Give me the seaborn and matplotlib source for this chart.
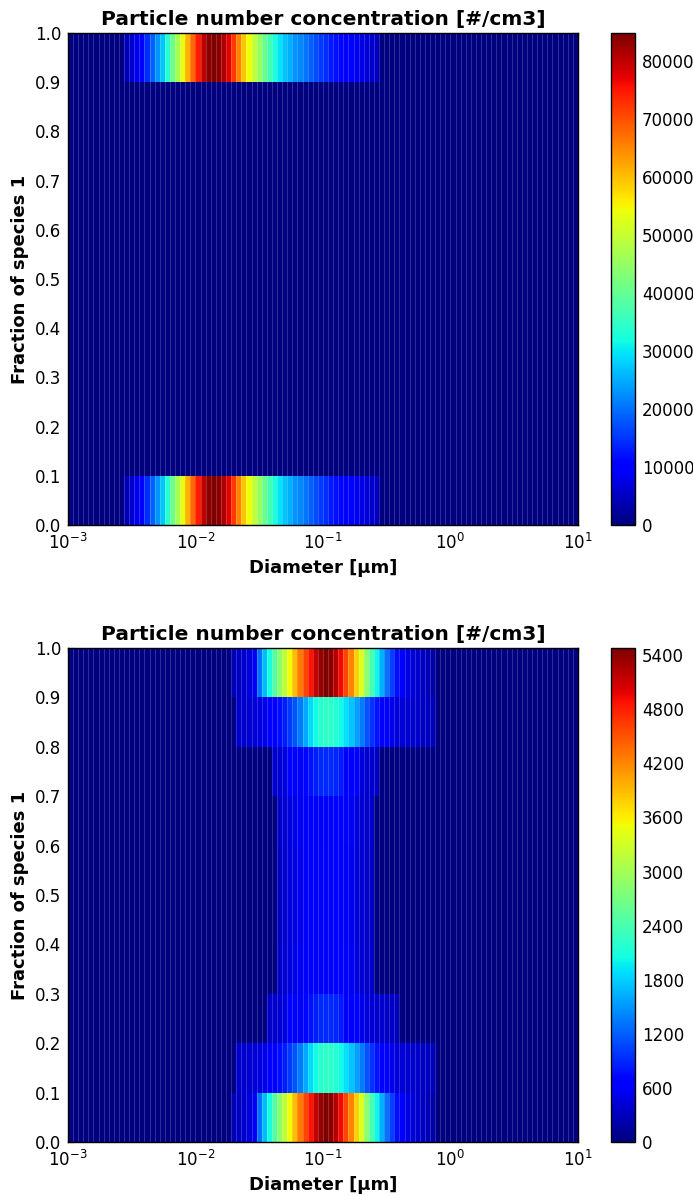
import numpy as np
import matplotlib
matplotlib.use('Agg')  # no display
import matplotlib.pyplot as plt
from matplotlib.ticker import FormatStrFormatter
import seaborn as sns

########################################
# 1. DATA
########################################
# 100 log-spaced diameter bins between 1e-3 and 1e1 um
diam_edges = np.logspace(-3, 1, 101)
frac_edges = [0.0, 0.1, 0.2, 0.3, 0.4, 0.5, 0.6, 0.7, 0.8, 0.9, 1.0]

# --- top panel: only the pure rows (0.0-0.1 and 0.9-1.0) are filled
run1_start = 11
run1_pure = [4200, 5900, 8500, 10200, 14400, 18700, 22900, 27100, 33900, 40700,
             46600, 53400, 61100, 67800, 74600, 80100, 83800, 84800, 84000, 81400,
             77200, 72100, 65300, 59400, 54300, 49200, 44900, 40700, 36500, 33100,
             29700, 27100, 25400, 22900, 22000, 20400, 18700, 17000, 15300, 14400,
             12700, 11900, 11000, 10200, 9300, 8500, 7600, 6800, 5900, 5100]

# --- bottom panel: mixing has spread particles over all fractions
run2_outer_start = 32   # rows 0.0-0.1 and 0.9-1.0
run2_outer = [270, 330, 380, 440, 550, 1300, 1700, 2080,
              2470, 2850, 3180, 3510, 3890, 4270, 4600, 4880, 5150, 5370,
              5480, 5420, 5210, 4930, 4600, 4220, 3780, 3340, 2850, 2410,
              2030, 1640, 1320, 1040, 770, 600, 490, 440, 380, 330,
              270, 220]
run2_second_start = 33  # rows 0.1-0.2 and 0.8-0.9
run2_second = [380, 380, 400, 420, 460, 520, 620, 680, 750, 850,
               1000, 1150, 1350, 1600, 1850, 2050, 2180, 2250, 2220, 2150,
               2050, 1900, 1750, 1550, 1350, 1150, 950, 800, 680, 600,
               500, 450, 420, 400, 380, 360, 340, 320, 300]
run2_third_start = 39   # rows 0.2-0.3 and 0.7-0.8
run2_third_low = [360, 380, 400, 450, 600, 650, 680, 720, 780, 850,
                  900, 920, 910, 880, 820, 700, 650, 620, 520, 450,
                  420, 400, 380, 350, 330, 300]
run2_third_high = [0, 380, 400, 450, 600, 650, 680, 720, 780, 850,
                   900, 920, 910, 880, 820, 700, 650, 620, 420, 400,
                   380, 350, 0, 0, 0, 0]
run2_mid_start = 41     # rows 0.3-0.7
run2_mid_rows = [
    [350, 400, 450, 500, 560, 590, 620, 650, 670, 680, 670, 650, 630, 600, 560, 450, 400, 380, 350],
    [340, 390, 440, 490, 550, 580, 600, 630, 650, 660, 650, 630, 610, 590, 550, 440, 390, 370, 340],
    [340, 390, 440, 490, 550, 580, 600, 630, 650, 660, 650, 630, 610, 590, 550, 440, 390, 370, 340],
    [350, 400, 450, 500, 560, 590, 620, 650, 670, 690, 670, 650, 630, 600, 560, 450, 400, 380, 350],
]

cbar1_ticks = [0, 10000, 20000, 30000, 40000, 50000, 60000, 70000, 80000]
cbar2_ticks = [0, 600, 1200, 1800, 2400, 3000, 3600, 4200, 4800, 5400]

########################################
# 2. BUILD THE 2D GRIDS (fraction x diameter)
########################################
n_frac = len(frac_edges) - 1
n_diam = len(diam_edges) - 1


def put(grid, row, start, values):
    grid[row, start:start + len(values)] = values


conc1 = np.zeros((n_frac, n_diam))
put(conc1, 0, run1_start, run1_pure)
put(conc1, 9, run1_start, run1_pure)

conc2 = np.zeros((n_frac, n_diam))
put(conc2, 0, run2_outer_start, run2_outer)
put(conc2, 9, run2_outer_start, run2_outer)
put(conc2, 1, run2_second_start, run2_second)
put(conc2, 8, run2_second_start, run2_second)
put(conc2, 2, run2_third_start, run2_third_low)
put(conc2, 7, run2_third_start, run2_third_high)
for k, vals in enumerate(run2_mid_rows):
    put(conc2, 3 + k, run2_mid_start, vals)

########################################
# 3. PLOT
########################################
sns.set_theme(style="white", rc={
    "xtick.direction": "in", "ytick.direction": "in",
    "xtick.top": True, "xtick.bottom": True,
    "ytick.left": True, "ytick.right": True,
    "xtick.major.size": 4, "ytick.major.size": 4,
    "xtick.minor.size": 2, "ytick.minor.size": 2,
    "xtick.major.width": 0.8, "ytick.major.width": 0.8,
    "xtick.major.pad": 6, "xtick.minor.pad": 6, "ytick.major.pad": 5,
    "xtick.color": "black", "ytick.color": "black",
    "text.color": "black", "axes.labelcolor": "black",
    "axes.edgecolor": "black", "axes.linewidth": 1.0,
    "xtick.labelsize": 12, "ytick.labelsize": 12,
})
plt.rcParams['font.family'] = ['DejaVu Sans']
jet = matplotlib.colormaps['jet']

fig = plt.figure(figsize=(6.93, 11.96), dpi=100)

panels = [
    (conc1, [0.0981, 0.561, 0.7359, 0.4114], [0.8817, 0.561, 0.0346, 0.4114], cbar1_ticks),
    (conc2, [0.0981, 0.0452, 0.7359, 0.4130], [0.8817, 0.0452, 0.0346, 0.4130], cbar2_ticks),
]

for data, ax_rect, cax_rect, ticks in panels:
    ax = fig.add_axes(ax_rect)
    mesh = ax.pcolormesh(diam_edges, frac_edges, data, cmap=jet,
                         vmin=0, vmax=data.max())
    # faint seams between the size bins, as in the original pcolor output
    for edge in diam_edges[1:-1]:
        ax.axvline(edge, color='white', alpha=0.22, lw=0.6, zorder=1.5)
    ax.set_xscale('log')
    ax.set_xlim(diam_edges[0], diam_edges[-1])
    ax.set_ylim(frac_edges[0], frac_edges[-1])
    ax.set_yticks(frac_edges)
    ax.yaxis.set_major_formatter(FormatStrFormatter('%.1f'))
    ax.set_xlabel('Diameter [µm]', fontweight='bold', fontsize=13)
    ax.set_ylabel('Fraction of species 1', fontweight='bold', fontsize=13)
    ax.set_title('Particle number concentration [#/cm3]', fontweight='bold', fontsize=14.5)

    cax = fig.add_axes(cax_rect)
    cb = fig.colorbar(mesh, cax=cax, ticks=ticks)
    cb.outline.set_edgecolor('black')
    cb.ax.tick_params(direction='in', length=4, labelsize=12, right=True, left=False)

fig.savefig('out.png', dpi=100)
